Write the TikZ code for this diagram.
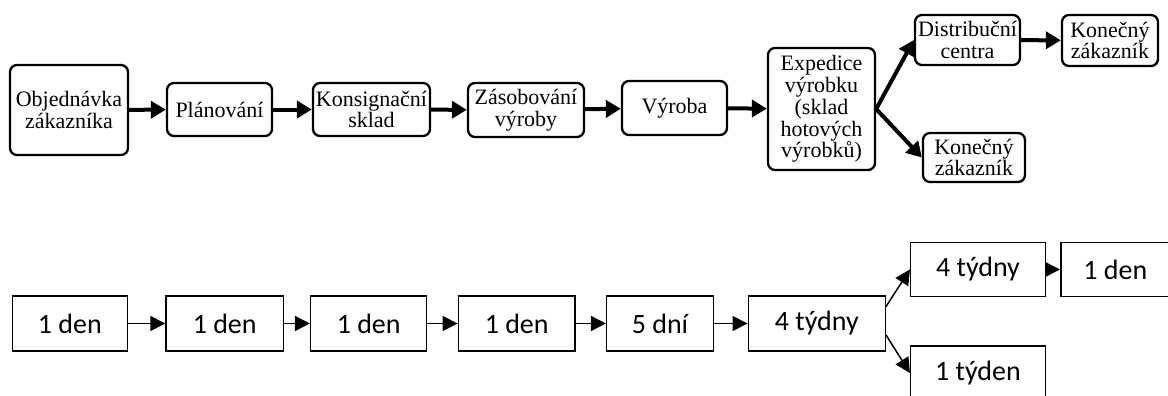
\documentclass[tikz,border=0pt]{standalone}
\usepackage{fontspec}
\setmainfont{Liberation Serif}
\newfontfamily\calib{Carlito}
\usetikzlibrary{arrows.meta}
\begin{document}
\begin{tikzpicture}[x=1pt,y=-1pt,
  stage/.style={draw, line width=2.3pt, rounded corners=7pt, align=center,
    inner sep=0pt, font=\fontsize{22}{21.8}\selectfont},
  flow/.style={line width=4pt, -{Triangle[length=15pt,width=17pt]}},
  span/.style={draw, line width=1.5pt, inner sep=0pt,
    font=\calib\fontsize{28}{30}\selectfont},
  lead/.style={line width=1.5pt, -{Triangle[length=15pt,width=15pt]}},
]
\useasboundingbox (0,0) rectangle (1168,396);
\clip (0,0) rectangle (1168,396);

% process chain
\node[stage, minimum width=118pt, minimum height=90pt]  (o1) at (69,110)    {Objednávka\\zákazníka};
\node[stage, minimum width=105pt, minimum height=53pt]  (o2) at (219.5,109.5) {Plánování};
\node[stage, minimum width=117pt, minimum height=53pt]  (o3) at (371.5,109.5) {Konsignační\\sklad};
\node[stage, minimum width=116pt, minimum height=54pt]  (o4) at (526,110)   {Zásobování\\výroby};
\node[stage, minimum width=105pt, minimum height=54pt]  (o5) at (674.5,108) {Výroba};
\node[stage, minimum width=107pt, minimum height=122pt] (o6) at (821.5,109) {Expedice\\výrobku\\(sklad\\hotových\\výrobků)};
\node[stage, minimum width=105pt, minimum height=50pt]  (o7) at (967.5,40)  {Distribuční\\centra};
\node[stage, minimum width=96pt,  minimum height=51pt]  (o8) at (1110,40.5) {Konečný\\zákazník};
\node[stage, minimum width=102pt, minimum height=49pt]  (o9) at (974,157.5) {Konečný\\zákazník};

\draw[flow] (o1) -- (o2);
\draw[flow] (o2) -- (o3);
\draw[flow] (o3) -- (o4);
\draw[flow] (o4) -- (o5);
\draw[flow] (o5) -- (o6);
\draw[flow] (o6.east) -- (o7.west);
\draw[flow] (o6.east) -- (o9.west);
\draw[flow] (o7) -- (o8);

% lead times
\node[span, minimum width=115pt,   minimum height=55pt] (d1) at (69.8,323.5)  {1 den};
\node[span, minimum width=117.3pt, minimum height=55pt] (d2) at (224.7,323.5) {1 den};
\node[span, minimum width=116pt,   minimum height=55pt] (d3) at (368.7,323.5) {1 den};
\node[span, minimum width=116.7pt, minimum height=55pt] (d4) at (516.7,323.5) {1 den};
\node[span, minimum width=106.6pt, minimum height=55pt] (d5) at (660,323.5)   {5 dní};
\node[span, minimum width=137pt,   minimum height=55pt] (d6) at (816.8,323.5) {4 týdny};
\node[span, minimum width=134.6pt, minimum height=54.4pt] (d7) at (978,269.5)  {4 týdny};
\node[span, minimum width=109.3pt, minimum height=54.4pt] (d8) at (1115.4,269.5) {1 den};
\node[span, minimum width=134.6pt, minimum height=54pt]   (d9) at (978,373)    {1 týden};

\draw[lead] (d1) -- (d2);
\draw[lead] (d2) -- (d3);
\draw[lead] (d3) -- (d4);
\draw[lead] (d4) -- (d5);
\draw[lead] (d5) -- (d6);
\draw[lead] ([yshift=17pt]d6.east) -- (d7.west);
\draw[lead] ([yshift=-11.5pt]d6.east) -- (d9.west);
\draw[lead] (d7) -- (d8);
\end{tikzpicture}
\end{document}
